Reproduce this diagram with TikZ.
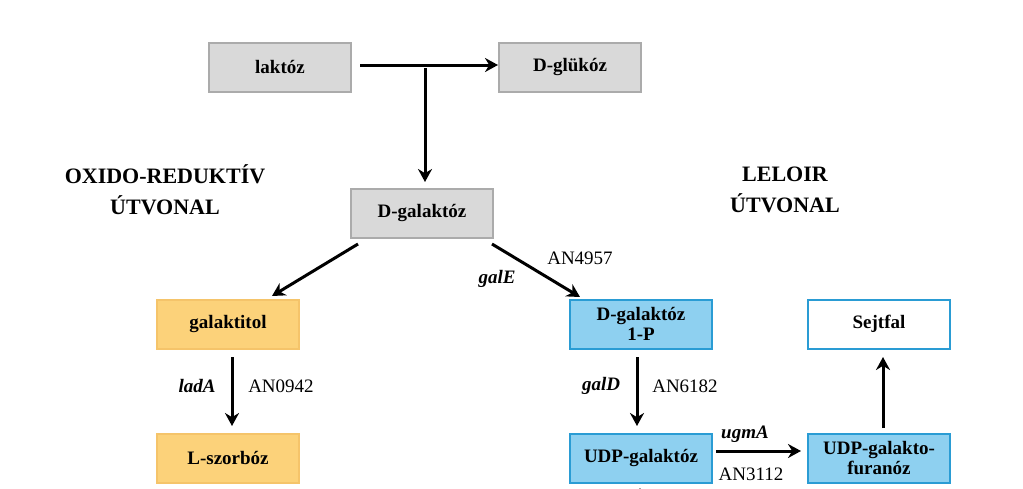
\documentclass[tikz,border=0pt]{standalone}
\usepackage{fontspec}
\setmainfont{Liberation Serif}
\usetikzlibrary{arrows.meta}
\definecolor{grayfill}{HTML}{D9D9D9}
\definecolor{grayline}{HTML}{ABABAB}
\definecolor{orangefill}{HTML}{FCD27A}
\definecolor{orangeline}{HTML}{F5C46A}
\definecolor{bluefill}{HTML}{8ED0F0}
\definecolor{blueline}{HTML}{2A9CD4}
\tikzset{
  box/.style={draw, line width=2pt, minimum width=142pt, minimum height=49pt,
    align=center, font=\fontsize{19}{21}\selectfont\bfseries},
  gray box/.style={box, fill=grayfill, draw=grayline},
  orange box/.style={box, fill=orangefill, draw=orangeline},
  blue box/.style={box, fill=bluefill, draw=blueline},
  white box/.style={box, fill=white, draw=blueline},
  flow/.style={line width=3pt, -{Stealth[length=13pt, width=14pt]}},
  enzyme/.style={font=\fontsize{19}{21}\selectfont\bfseries\itshape},
  code/.style={font=\fontsize{19}{21}\selectfont},
  title/.style={align=center, font=\fontsize{22}{31}\selectfont\bfseries}
}
\begin{document}
\begin{tikzpicture}[x=1pt, y=-1pt]
  \useasboundingbox (0,0) rectangle (1023,488);

  % nodes
  \node[gray box] (lactose) at (280,67) {laktóz};
  \node[gray box] (glucose) at (570,67) {D-glükóz};
  \node[gray box] (galactose) at (422,213) {D-galaktóz};
  \node[orange box] (galactitol) at (228,324) {galaktitol};
  \node[orange box] (sorbose) at (228,458) {L-szorbóz};
  \node[blue box] (gal1p) at (641,324) {D-galaktóz\\[-1pt]1-P};
  \node[blue box] (udpgal) at (641,458) {UDP-galaktóz};
  \node[blue box] (udpgalf) at (879,458) {UDP-galakto-\\[-1pt]furanóz};
  \node[white box] (wall) at (879,324) {Sejtfal};

  \node[title] (oxred) at (165,190) {OXIDO-REDUKTÍV\\ÚTVONAL};
  \node[title] (leloir) at (785,190) {LELOIR\\ÚTVONAL};

  \coordinate (split) at (425,69);
  \coordinate (below) at (640,510);

  % arrows
  \draw[flow] (lactose.east) ++(8pt,2pt) -- ([yshift=2pt]glucose.west) ;
  \draw[line width=3pt] (split) -- ++(0,1pt);
  \draw[flow] (split) -- (425,182);
  \draw[flow] (358,244) -- (272,296);
  \draw[flow] (492,244) -- (580,297);
  \draw[flow] (232,357) -- (232,426);
  \draw[flow] (637,357) -- (637,426);
  \draw[flow] (716,451) -- (801,451);
  \draw[flow] (883,428) -- (883,357);
  \draw[flow] (below) -- (640,488);

  % labels
  \node[code] (an4957) at (580,258) {AN4957};
  \node[enzyme] (galE) at (497,279) {galE};
  \node[enzyme] (ladA) at (197,386) {ladA};
  \node[code] (an0942) at (281,386) {AN0942};
  \node[enzyme] (galD) at (601,386) {galD};
  \node[code] (an6182) at (685,386) {AN6182};
  \node[enzyme] (ugmA) at (745,434) {ugmA};
  \node[code] (an3112) at (751,474) {AN3112};
\end{tikzpicture}
\end{document}
